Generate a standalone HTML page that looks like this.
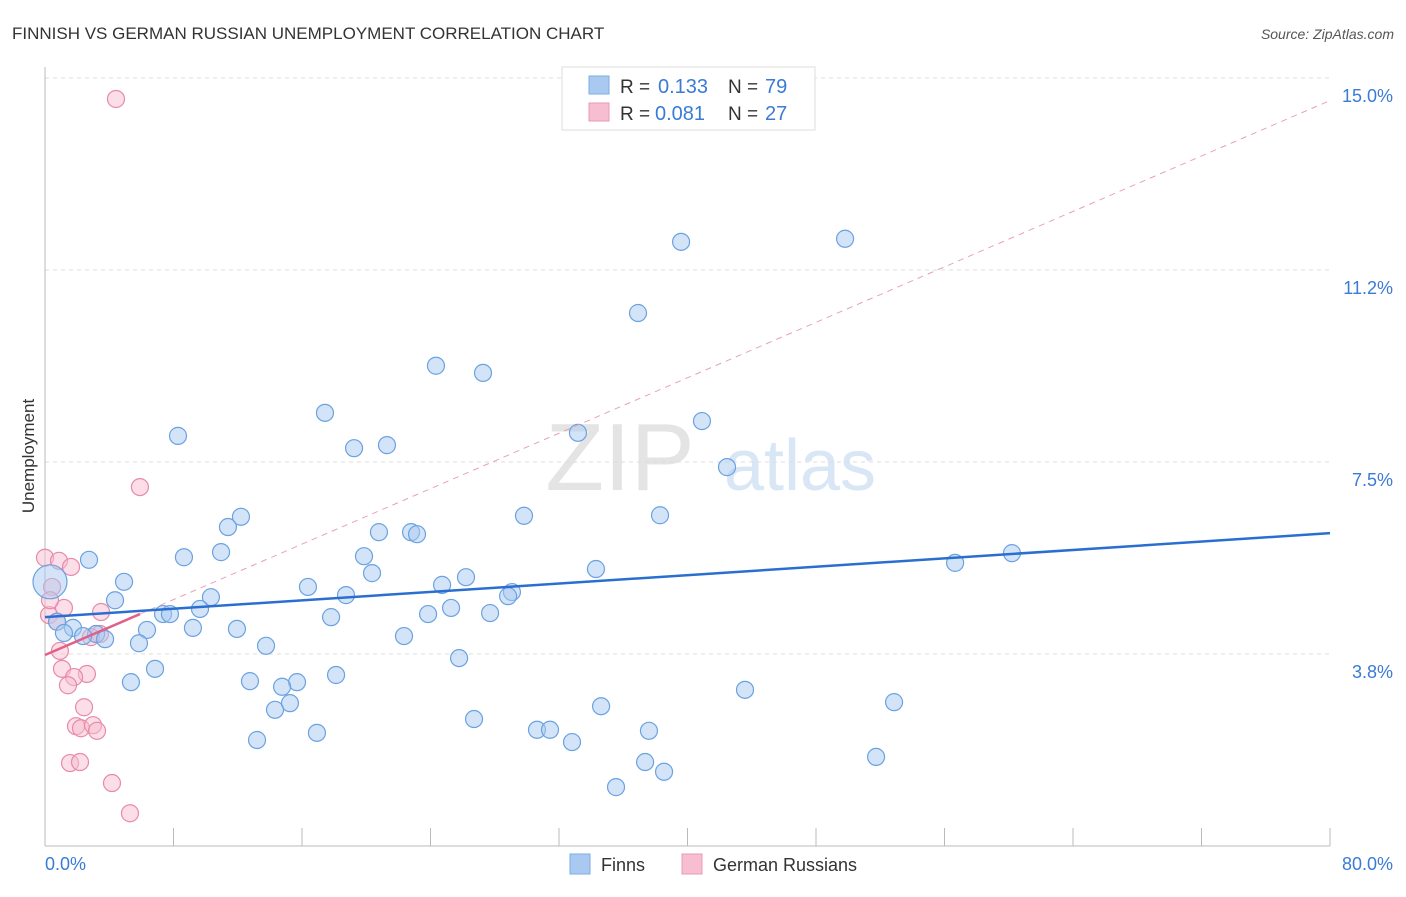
<!DOCTYPE html>
<html><head><meta charset="utf-8"><style>
body{margin:0;background:#fff;font-family:"Liberation Sans",sans-serif;}
svg text{font-family:"Liberation Sans",sans-serif;}
</style></head><body>
<svg width="1406" height="892" xmlns="http://www.w3.org/2000/svg" id="chart">
<text x="12" y="39" font-size="17" fill="#333">FINNISH VS GERMAN RUSSIAN UNEMPLOYMENT CORRELATION CHART</text>
<text x="1394" y="39" font-size="14" fill="#555" font-style="italic" text-anchor="end">Source: ZipAtlas.com</text>
<text x="620" y="490" font-size="96" fill="#e4e4e4" font-family="Liberation Serif" text-anchor="middle">ZIP</text>
<text x="800" y="490" font-size="72" fill="#d8e6f6" text-anchor="middle">atlas</text>
<g id="grid"></g><g id="axes"></g><g id="pts"></g><g id="lines"></g>
<text transform="translate(34,456) rotate(-90)" font-size="17" fill="#333" text-anchor="middle">Unemployment</text>
<g>
<rect x="562" y="67" width="253" height="63" fill="#fff" stroke="#ddd"/>
<rect x="589" y="76" width="20" height="18" fill="#a9c9f1" stroke="#7aaee6"/>
<rect x="589" y="103" width="20" height="18" fill="#f7bdd0" stroke="#ea9ab4"/>
<text x="620" y="93" font-size="19" fill="#333">R =</text>
<text x="658" y="93" font-size="20" fill="#3a7bd5">0.133</text>
<text x="728" y="93" font-size="19" fill="#333">N =</text>
<text x="765" y="93" font-size="20" fill="#3a7bd5">79</text>
<text x="620" y="120" font-size="19" fill="#333">R =</text>
<text x="655" y="120" font-size="20" fill="#3a7bd5">0.081</text>
<text x="728" y="120" font-size="19" fill="#333">N =</text>
<text x="765" y="120" font-size="20" fill="#3a7bd5">27</text>
</g>
<g>
<rect x="570" y="854" width="20" height="20" fill="#a9c9f1" stroke="#7aaee6"/>
<text x="601" y="871" font-size="18" fill="#333">Finns</text>
<rect x="682" y="854" width="20" height="20" fill="#f7bdd0" stroke="#ea9ab4"/>
<text x="713" y="871" font-size="18" fill="#333">German Russians</text>
</g>
</svg>
<script>
const yTicks=[3.75,7.5,11.25,15.0];
const yTickLabels=["3.8%","7.5%","11.2%","15.0%"];
const xEndLabels=["0.0%","80.0%"];
const finnsX=[39.60,49.81,36.92,24.34,27.27,17.43,8.28,19.24,21.29,40.90,33.18,42.46,12.20,11.39,29.82,38.29,20.79,22.79,23.16,10.96,8.65,2.74,19.86,60.20,56.66,34.30,20.36,26.21,4.92,24.72,16.37,18.74,29.07,28.83,10.33,4.36,9.65,25.28,23.85,27.71,7.35,7.78,17.81,0.75,1.74,1.18,9.21,11.95,6.35,3.18,2.37,3.74,22.35,5.85,13.76,25.78,6.85,18.12,5.35,12.76,15.69,14.76,43.58,15.25,52.86,14.32,34.62,26.71,16.93,30.63,31.44,37.60,13.20,32.81,51.74,37.36,38.54,35.55];
const finnsY=[11.80,11.86,10.41,9.38,9.24,8.46,8.01,7.77,7.83,8.30,8.07,7.40,6.43,6.23,6.45,6.46,6.13,6.13,6.09,5.74,5.64,5.59,5.66,5.72,5.53,5.41,5.33,5.25,5.16,5.10,5.06,4.90,4.96,4.88,4.86,4.80,4.63,4.65,4.53,4.55,4.53,4.53,4.47,4.38,4.26,4.16,4.26,4.24,4.22,4.14,4.10,4.04,4.10,3.96,3.91,3.67,3.46,3.34,3.20,3.22,3.20,3.11,3.05,2.79,2.81,2.66,2.73,2.48,2.21,2.27,2.27,2.25,2.07,2.03,1.74,1.64,1.45,1.15];
const grX=[4.42,5.91,0.00,0.87,1.62,0.44,1.18,3.49,0.25,0.75,3.42,2.86,0.93,1.06,2.61,1.81,1.43,2.43,1.93,2.24,2.99,3.24,1.56,2.18,4.17,5.29,0.31];
const grY=[14.59,7.01,5.63,5.57,5.45,5.06,4.65,4.57,4.51,4.38,4.14,4.08,3.81,3.46,3.36,3.30,3.14,2.71,2.34,2.30,2.36,2.25,1.62,1.64,1.23,0.64,4.80];
const bigX=[0.31], bigY=[5.16];
const finnsTrend=[[0,4.47],[80,6.11]];
const grTrend=[[0,3.73],[5.91,4.53]];
const grTrendExt=[[5.91,4.53],[80,14.56]];
const X=v=>45+v/80*1285, Y=v=>846-v*51.2;
const NS="http://www.w3.org/2000/svg";
function mk(p,t,a){const e=document.createElementNS(NS,t);for(const k in a)e.setAttribute(k,a[k]);p.appendChild(e);return e;}
const grid=document.getElementById('grid'),axes=document.getElementById('axes'),pts=document.getElementById('pts'),lines=document.getElementById('lines');
yTicks.forEach((v,i)=>{
 const l=mk(grid,'line',{x1:45,x2:1330,y1:Y(v),y2:Y(v),stroke:'#ddd','stroke-dasharray':'4,4'});
 
 
 const t=mk(axes,'text',{x:1393,y:Y(v)+24,'font-size':18,fill:'#3a7bd5','text-anchor':'end'});t.textContent=yTickLabels[i];
 
 
});
const ax=mk(axes,'line',{x1:45,x2:45,y1:67,y2:846,stroke:'#bbb'});


const bx=mk(axes,'line',{x1:45,x2:1330,y1:846,y2:846,stroke:'#bbb'});


for(let i=0;i<=10;i++){const t=mk(axes,'line',{x1:X(i*8),x2:X(i*8),y1:828,y2:846,stroke:'#bbb'});
 
 }
[[0,'start',45],[80,'end',1393]].forEach((d,i)=>{const t=mk(axes,'text',{x:d[2],y:870,'font-size':18,fill:'#3a7bd5','text-anchor':d[1]});t.textContent=xEndLabels[i];
 
 });
function dots(xs,ys,r,fill,stroke,name){xs.forEach((x,i)=>{const c=mk(pts,'circle',{cx:X(x),cy:Y(ys[i]),r:r,fill:fill,'fill-opacity':0.5,stroke:stroke,'stroke-width':1.2});
 
 });}
dots(grX,grY,8.5,'#f7bdd0','#e88aaa','german-russians-point');
dots(finnsX,finnsY,8.5,'#a9c9f1','#6aa2e0','finns-point');
dots(bigX,bigY,17,'#a9c9f1','#6aa2e0','finns-point-large');
function ln(p,stroke,w,dash,name){const l=mk(lines,'line',{x1:X(p[0][0]),y1:Y(p[0][1]),x2:X(p[1][0]),y2:Y(p[1][1]),stroke:stroke,'stroke-width':w});if(dash)l.setAttribute('stroke-dasharray',dash);
 
 }
ln(grTrendExt,'#eaa0b8',1,'6,5','german-russians-trend-extension');
ln(finnsTrend,'#2a6fd0',2.5,null,'finns-trend-line');
ln(grTrend,'#e0608a',2.5,null,'german-russians-trend-line');
</script>
</body></html>
